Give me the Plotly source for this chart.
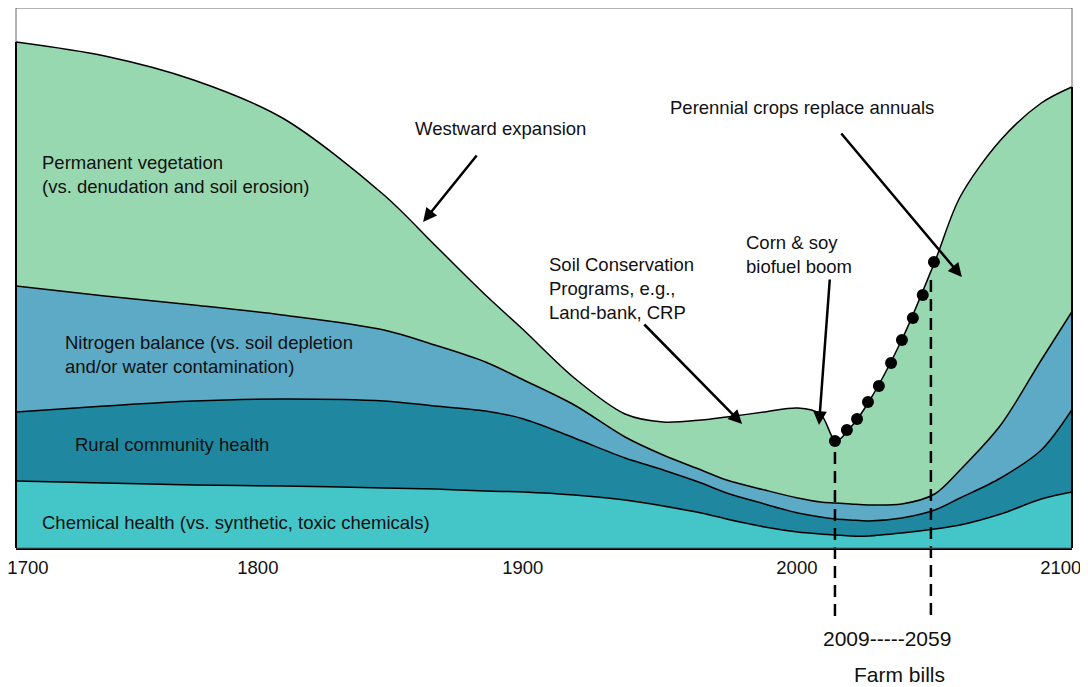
import plotly.graph_objects as go

# ---------------- data (schematic) ----------------
years = [1700, 1735, 1770, 1805, 1845, 1865, 1885, 1900, 1920, 1940, 1955, 1970,
         1980, 1995, 2008, 2017, 2023, 2029, 2036, 2049, 2062, 2072, 2088, 2104, 2116]

chemical_health = [67, 65, 63, 62, 60, 59, 57, 56, 53, 48, 42, 35,
                   29, 21, 16, 14, 13, 12, 12, 15, 19, 23, 34, 49, 56]
rural_community = [69, 77, 84, 87, 87, 83, 80, 73, 57, 42, 36, 30,
                   26, 23, 19, 17, 16, 16, 15, 15, 19, 27, 36, 49, 82]
nitrogen_balance = [126, 110, 96, 84, 71, 61, 49, 39, 33, 21, 15, 13,
                    13, 14, 15, 15, 16, 16, 16, 14, 16, 28, 53, 90, 98]
permanent_vegetation = [244, 240, 225, 197, 135, 100, 67, 50, 27, 23, 33, 50,
                        63, 78, 90, 88, 62, 77, 103, 164, 232, 273, 285, 257, 225]

layer_names = ["Chemical health", "Rural community health",
               "Nitrogen balance", "Permanent vegetation"]

# farm-bill dots on the vegetation curve
bill_dot_years = [2022.7, 2027.4, 2031.4, 2035.7, 2040.0, 2044.8, 2049.1, 2053.4, 2057.3, 2061.7]
bill_dot_level = [107, 118, 129, 146, 162, 185, 208, 230, 253, 286]

farm_bill_marks = [2022.7, 2060.5]
farm_bill_label = "2009-----2059"

tick_labels = ["1700", "1800", "1900", "2000", "2100"]
tick_positions = [1704.7, 1795.3, 1899.7, 2007.7, 2111.7]

# ---------------- styling ----------------
FONT = "Liberation Sans, Arial, sans-serif"
colors = ["#44C6C8", "#1F88A0", "#5CAAC6", "#98D8B0"]
X_RANGE = [1700, 2116.1]
Y_RANGE = [0, 540]

series = [chemical_health, rural_community, nitrogen_balance, permanent_vegetation]

fig = go.Figure()
for name, vals, col in zip(layer_names, series, colors):
    fig.add_trace(go.Scatter(
        x=years, y=vals, name=name, stackgroup="layers", mode="lines",
        line=dict(color="black", width=1.5, shape="spline", smoothing=0.9),
        fillcolor=col, hoverinfo="skip"))

fig.add_trace(go.Scatter(
    x=bill_dot_years, y=bill_dot_level, mode="markers",
    marker=dict(color="black", size=12), hoverinfo="skip", cliponaxis=False))

# dashed farm-bill lines (extend below the axis)
tops = [(bill_dot_level[0] - 11) / Y_RANGE[1], (bill_dot_level[-1] - 18) / Y_RANGE[1]]
for xv, top in zip(farm_bill_marks, tops):
    fig.add_shape(type="line", xref="x", yref="paper", x0=xv, x1=xv, y0=top, y1=-0.128,
                  line=dict(color="black", width=2.5, dash="12px,7px"))

# frame
fig.add_shape(type="rect", xref="paper", yref="paper", x0=0, x1=1, y0=0, y1=1,
              line=dict(color="#666666", width=1), layer="above")
# dark outline along the stacked area's left and right edges
left_total = sum(s[0] for s in series)
right_total = sum(s[-1] for s in series)
for xp, tot in [(0, left_total), (1, right_total)]:
    fig.add_shape(type="line", xref="paper", yref="y", x0=xp, x1=xp, y0=0, y1=tot,
                  line=dict(color="black", width=2), layer="above")

txt = dict(font=dict(family=FONT, size=18.5, color="#111111"), showarrow=False,
           xanchor="left", yanchor="middle", align="left")
labels = [
    (1709.5, 373.5, "Permanent vegetation<br>(vs. denudation and soil erosion)"),
    (1718.5, 193.5, "Nitrogen balance (vs. soil depletion<br>and/or water contamination)"),
    (1722.5, 104, "Rural community health"),
    (1709.5, 26, "Chemical health (vs. synthetic, toxic chemicals)"),
    (1856.4, 420, "Westward expansion"),
    (1956.9, 441, "Perennial crops replace annuals"),
    (1986.8, 294, "Corn &amp; soy<br>biofuel boom"),
    (1909.2, 260, "Soil Conservation<br>Programs, e.g.,<br>Land-bank, CRP"),
]
for x, y, t in labels:
    fig.add_annotation(x=x, y=y, text=t, **txt)

arrows = [
    ((1882.0, 394), (1860.4, 326)),
    ((1947.0, 225), (1986.1, 124)),
    ((2020.7, 270), (2016.4, 123)),
    ((2024.7, 416), (2072.7, 271)),
]
for (tx, ty), (hx, hy) in arrows:
    fig.add_annotation(x=hx, y=hy, ax=tx, ay=ty, xref="x", yref="y", axref="x", ayref="y",
                       text="", showarrow=True, arrowhead=2, arrowsize=1.1, arrowwidth=2.5,
                       arrowcolor="black", standoff=0)

fig.add_annotation(x=2043.2, y=-0.167, xref="x", yref="paper", text=farm_bill_label,
                   showarrow=False, font=dict(family=FONT, size=21, color="#111111"),
                   xanchor="center", yanchor="middle")
fig.add_annotation(x=2048.3, y=-0.234, xref="x", yref="paper", text="Farm bills",
                   showarrow=False, font=dict(family=FONT, size=21, color="#111111"),
                   xanchor="center", yanchor="middle")

# page body has an 8px margin, so the figure is 1080x679 and sits at (8, 8)
fig.update_layout(
    width=1080, height=679, margin=dict(l=8, r=16, t=0, b=139),
    paper_bgcolor="white", plot_bgcolor="white", showlegend=False,
    font=dict(family=FONT, size=18, color="#111111"),
    xaxis=dict(range=X_RANGE, tickvals=tick_positions, ticktext=tick_labels,
               showgrid=False, zeroline=False, showline=True, linecolor="black",
               linewidth=2, ticks="", ticklabeloverflow="allow", ticklabelstandoff=2,
               tickfont=dict(size=18.5, family=FONT, color="#111111")),
    yaxis=dict(range=Y_RANGE, showgrid=False, zeroline=False, showticklabels=False,
               showline=False, ticks=""),
)

fig.write_html("out.html")
